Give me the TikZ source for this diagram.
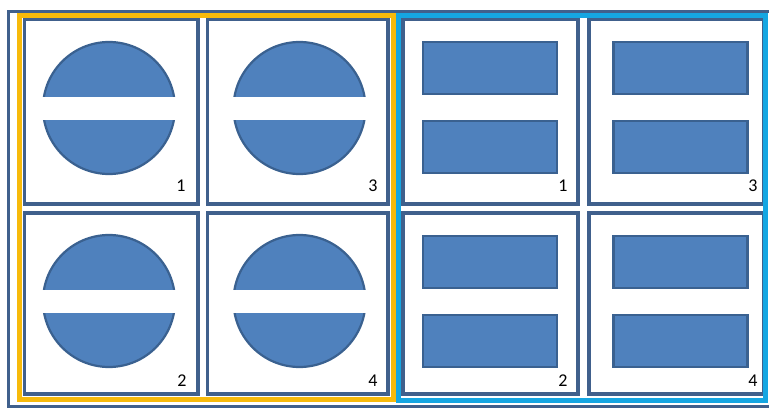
\documentclass[tikz,border=0pt]{standalone}
\usepackage{fontspec}
\setmainfont{Carlito}
\usetikzlibrary{positioning}
\definecolor{cFill}  {HTML}{4F81BD}
\definecolor{cEdge}  {HTML}{3A6190}
\definecolor{cCell}  {HTML}{40608C}
\definecolor{cYellow}{HTML}{F7BA0B}
\definecolor{cBlue}  {HTML}{15A6E2}
\begin{document}
\begin{tikzpicture}[x=1pt, y=-1pt,
  cellbox/.style={draw=cCell, line width=3.6pt, fill=white, inner sep=0pt},
  disc/.style={circle, fill=cFill, draw=cEdge, line width=2.2pt, minimum size=132pt, inner sep=0pt},
  band/.style={fill=white, minimum width=140pt, minimum height=23pt, inner sep=0pt},
  bar/.style={fill=cFill, draw=cEdge, line width=2.2pt, minimum width=134pt, minimum height=52pt, inner sep=0pt},
  num/.style={font=\fontsize{18}{18}\selectfont, inner sep=0pt},
]
  \useasboundingbox (0,0) rectangle (769,408);
  % outer frame
  \draw[cCell, line width=3pt] (8,11.5) rectangle (773,406);
  % cells
  \foreach \n/\cx/\cy/\w/\h in {
      a1/111.25/111.5/173.5/185, a2/111.25/303.5/173.5/181,
      a3/297.75/111.5/180.5/185, a4/297.75/303.5/180.5/181,
      b1/490.5/111.5/175/185,    b2/490.5/303.5/175/181,
      b3/676.5/111.5/175/185,    b4/676.5/303.5/175/181}
    \node[cellbox, minimum width=\w pt, minimum height=\h pt] (\n) at (\cx,\cy) {};
  % circles with a white band
  \foreach \n/\cx/\cy in {1/109/108, 2/109/301, 3/299.5/108, 4/299.5/301} {
    \node[disc] (disc\n) at (\cx,\cy) {};
    \node[band] (band\n) at (disc\n.center) {};
  }
  % pairs of bars
  \foreach \n/\cx/\cy in {1/490/107.5, 2/490/301.5, 3/680.5/107.5, 4/680.5/301.5} {
    \node[bar] (top\n) at (\cx,\cy-39.5) {};
    \node[bar] (bot\n) at (\cx,\cy+39.5) {};
  }
  % numbers
  \node[num] (na1) at (181,186) {1};
  \node[num] (na2) at (182,381) {2};
  \node[num] (na3) at (373,186) {3};
  \node[num] (na4) at (373,381) {4};
  \node[num] (nb1) at (563,186) {1};
  \node[num] (nb2) at (563,381) {2};
  \node[num] (nb3) at (753,186) {3};
  \node[num] (nb4) at (753,381) {4};
  % group frames
  \draw[cYellow, line width=5pt] (19.5,15) rectangle (393.5,399.5);
  \draw[cBlue, line width=5pt] (398.5,15) rectangle (765.5,400.5);
\end{tikzpicture}
\end{document}
